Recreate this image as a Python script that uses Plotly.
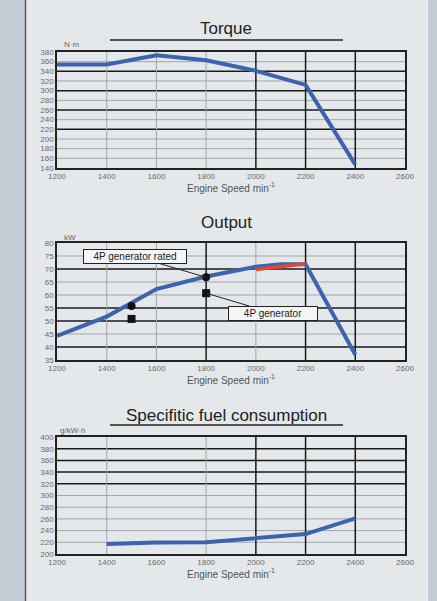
import plotly.graph_objects as go

# ---------------- data ----------------
speed_ticks = [1200, 1400, 1600, 1800, 2000, 2200, 2400, 2600]

torque_speed = [1200, 1400, 1600, 1800, 2000, 2200, 2400]
torque_nm = [354, 354, 373, 363, 341, 312, 147]
torque_ticks = [140, 160, 180, 200, 220, 240, 260, 280, 300, 320, 340, 360, 380]

output_speed = [1200, 1400, 1600, 1800, 2000, 2100, 2200, 2400]
output_kw = [44.3, 51.7, 62.3, 67.1, 70.9, 71.8, 71.8, 37]
red_speed = [2000, 2100, 2200]
red_kw = [69.8, 70.8, 72.0]
rated_speed = [1500, 1800]
rated_kw = [55.8, 66.8]
gen_speed = [1500, 1800]
gen_kw = [50.8, 60.7]
output_ticks = [35, 40, 45, 50, 55, 60, 65, 70, 75, 80]

fuel_speed = [1400, 1600, 1800, 2000, 2200, 2400]
fuel_gkwh = [217, 219.5, 220, 227, 234, 261]
fuel_ticks = [200, 220, 240, 260, 280, 300, 320, 340, 360, 380, 400]

# grid lines: dark ones and light ones
torque_dark_y = [340, 300, 260, 220]
torque_dark_x = [2000, 2200, 2400]
torque_light_x = [1400, 1600, 1800]
output_dark_y = [70, 55, 50, 40]
output_dark_x = [1800, 2200, 2400]
output_light_x = [1400, 1600, 2000]
fuel_dark_y = [380, 360, 340, 320]
fuel_dark_x = [2000, 2200, 2400]
fuel_light_x = [1400, 1800]

W, H = 437, 601
BLUE = "#3c63ad"
RED = "#e2462c"
FONT = "Liberation Sans, Arial, sans-serif"


def px(v):
    return v / W


def py(v):
    return 1 - v / H


fig = go.Figure()

fig.add_trace(go.Scatter(x=torque_speed, y=torque_nm, mode="lines",
                         line=dict(color=BLUE, width=4), xaxis="x", yaxis="y",
                         showlegend=False))
fig.add_trace(go.Scatter(x=output_speed, y=output_kw, mode="lines",
                         line=dict(color=BLUE, width=4), xaxis="x2", yaxis="y2",
                         showlegend=False))
fig.add_trace(go.Scatter(x=red_speed, y=red_kw, mode="lines",
                         line=dict(color=RED, width=3.5), xaxis="x2", yaxis="y2",
                         showlegend=False))
fig.add_trace(go.Scatter(x=rated_speed, y=rated_kw, mode="markers",
                         marker=dict(color="#111", size=8, symbol="circle"),
                         xaxis="x2", yaxis="y2", showlegend=False))
fig.add_trace(go.Scatter(x=gen_speed, y=gen_kw, mode="markers",
                         marker=dict(color="#111", size=8, symbol="square"),
                         xaxis="x2", yaxis="y2", showlegend=False))
fig.add_trace(go.Scatter(x=fuel_speed, y=fuel_gkwh, mode="lines",
                         line=dict(color=BLUE, width=4), xaxis="x3", yaxis="y3",
                         showlegend=False))

xdom = [px(57), px(405)]
ydoms = {
    "": [py(168), py(52)],
    "2": [py(360), py(243)],
    "3": [py(554), py(437)],
}
yranges = {"": [140, 380], "2": [35, 80], "3": [200, 400]}
yticks = {"": torque_ticks, "2": output_ticks, "3": fuel_ticks}

axis_common = dict(showline=True, mirror=True, linecolor="#222", linewidth=1.5,
                   showgrid=False, zeroline=False, ticks="", automargin=False,
                   tickfont=dict(family=FONT, size=8, color="#6a6a6a"))

layout_axes = {}
for s in ["", "2", "3"]:
    layout_axes["xaxis" + s] = dict(axis_common, domain=xdom, range=[1200, 2600],
                                    tickvals=speed_ticks, anchor="y" + s,
                                    title=dict(text="Engine Speed min<sup>-1</sup>",
                                               font=dict(family=FONT, size=10, color="#555"),
                                               standoff=2))
    layout_axes["yaxis" + s] = dict(axis_common, domain=ydoms[s], range=yranges[s],
                                    tickvals=yticks[s], anchor="x" + s)

shapes = []
# panel background
shapes.append(dict(type="rect", xref="paper", yref="paper", x0=px(26), x1=px(427),
                   y0=0, y1=1, fillcolor="#e4e8ea", line=dict(width=0), layer="below"))
shapes.append(dict(type="line", xref="paper", yref="paper", x0=px(25.5), x1=px(25.5),
                   y0=0, y1=1, line=dict(color="#555a60", width=1.5)))
shapes.append(dict(type="line", xref="paper", yref="paper", x0=px(427), x1=px(427),
                   y0=0, y1=1, line=dict(color="#f2f4f5", width=1.5)))

DARK = dict(color="#1a1a1a", width=1.5)
LIGHT = dict(color="#a4a7aa", width=1)
for s, yt, dy, dx, lx in [("", torque_ticks, torque_dark_y, torque_dark_x, torque_light_x),
                          ("2", output_ticks, output_dark_y, output_dark_x, output_light_x),
                          ("3", fuel_ticks, fuel_dark_y, fuel_dark_x, fuel_light_x)]:
    for v in yt[1:-1]:
        shapes.append(dict(type="line", xref="x" + s + " domain", yref="y" + s,
                           x0=0, x1=1, y0=v, y1=v,
                           line=DARK if v in dy else LIGHT, layer="below"))
    for v in lx + dx:
        shapes.append(dict(type="line", xref="x" + s, yref="y" + s + " domain",
                           x0=v, x1=v, y0=0, y1=1,
                           line=DARK if v in dx else LIGHT, layer="below"))

# title underlines
for yy in [40, 425]:
    shapes.append(dict(type="line", xref="paper", yref="paper", x0=px(110), x1=px(343),
                       y0=py(yy), y1=py(yy), line=dict(color="#222", width=1.5)))

annotations = []
for text, yy in [("Torque", 29), ("Output", 222), ("Specifitic fuel consumption", 415)]:
    annotations.append(dict(text=text, xref="paper", yref="paper", x=px(226), y=py(yy),
                            showarrow=False, xanchor="center", yanchor="middle",
                            font=dict(family=FONT, size=17, color="#222")))
for text, xx, yy in [("N·m", 62, 44), ("kW", 62, 237), ("g/kW·h", 58, 430)]:
    annotations.append(dict(text=text, xref="paper", yref="paper", x=px(xx), y=py(yy),
                            showarrow=False, xanchor="left", yanchor="middle",
                            font=dict(family=FONT, size=8, color="#666")))

annotations.append(dict(text="4P generator rated", xref="x2", yref="y2",
                        x=rated_speed[1], y=rated_kw[1], ax=-71, ay=-21,
                        showarrow=True, arrowhead=2, arrowsize=0.8, arrowwidth=1,
                        arrowcolor="#222", bgcolor="#f4f5f6", bordercolor="#222",
                        borderwidth=1, borderpad=1, width=100,
                        font=dict(family=FONT, size=10, color="#222")))
annotations.append(dict(text="4P generator", xref="x2", yref="y2",
                        x=gen_speed[1], y=gen_kw[1], ax=67, ay=20,
                        showarrow=True, arrowhead=2, arrowsize=0.8, arrowwidth=1,
                        arrowcolor="#222", bgcolor="#f4f5f6", bordercolor="#222",
                        borderwidth=1, borderpad=1, width=86,
                        font=dict(family=FONT, size=10, color="#222")))

fig.update_layout(width=W, height=H, margin=dict(l=0, r=0, t=0, b=0, autoexpand=False),
                  paper_bgcolor="#c3ced6", plot_bgcolor="#e8ebed",
                  shapes=shapes, annotations=annotations, **layout_axes)

fig.write_html("out.html", config={"displayModeBar": False},
               post_script="document.body.style.margin='0';")
